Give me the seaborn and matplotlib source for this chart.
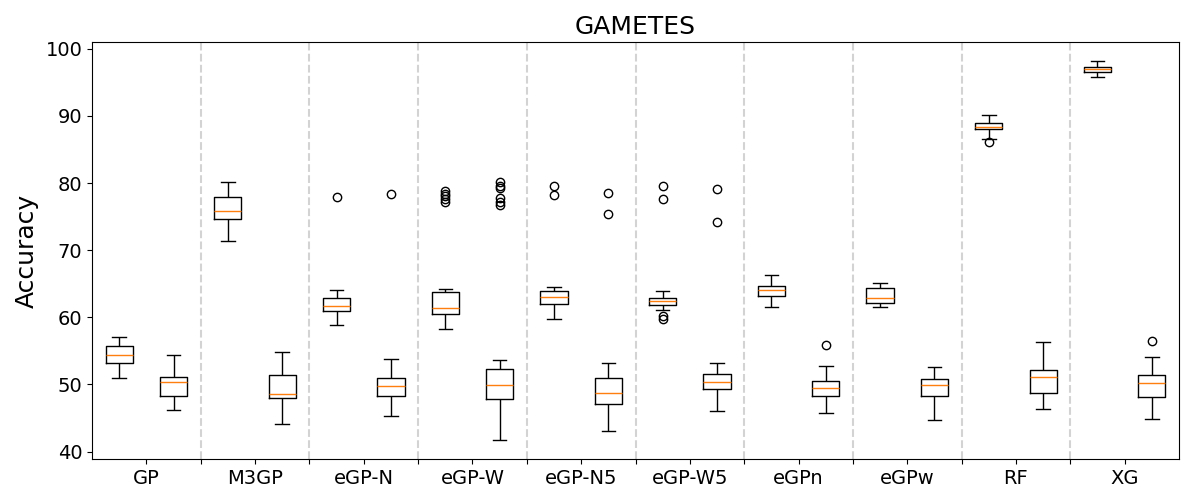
import numpy as np
import pandas as pd
import matplotlib
matplotlib.use("Agg")
import matplotlib.pyplot as plt
import seaborn as sns

# ---- data ----
methods = ["GP", "M3GP", "eGP-N", "eGP-W", "eGP-N5", "eGP-W5", "eGPn", "eGPw", "RF", "XG"]

# 20 boxes: for each method a left (train) and right (test) box
whisker_low = [50.94, 46.19, 71.41, 44.11, 58.81, 45.30, 58.22, 41.73, 59.70, 43.07,
               61.04, 46.00, 61.49, 45.79, 61.49, 44.70, 86.62, 46.34, 95.82, 44.85]
quart_low = [53.17, 48.27, 74.65, 47.92, 60.99, 48.21, 60.45, 47.83, 62.03, 47.08,
             61.88, 49.30, 63.10, 48.27, 62.08, 48.31, 87.97, 48.71, 96.57, 48.15]
medians = [54.36, 50.35, 75.84, 48.52, 61.63, 49.75, 61.34, 49.85, 62.97, 48.71,
           62.37, 50.39, 64.00, 49.50, 62.93, 49.90, 88.37, 51.09, 96.95, 50.20]
quart_high = [55.70, 51.09, 77.93, 51.39, 62.82, 50.94, 63.72, 52.28, 63.86, 50.94,
              62.82, 51.54, 64.60, 50.49, 64.31, 50.79, 88.96, 52.13, 97.31, 51.35]
whisker_high = [57.03, 54.36, 80.17, 54.80, 64.01, 53.76, 64.16, 53.61, 64.46, 53.22,
                63.86, 53.22, 66.29, 52.72, 65.10, 52.62, 90.16, 56.29, 98.21, 54.06]
outliers = [
    [], [], [], [],
    [77.93], [78.37],
    [77.2, 77.6, 78.0, 78.4, 78.8], [76.8, 77.2, 77.7, 79.2, 79.6, 80.1],
    [78.22, 79.51], [75.45, 78.52],
    [59.7, 60.2, 77.63, 79.6], [74.2, 79.1],
    [], [55.84],
    [], [],
    [86.07], [],
    [], [56.40],
]


def box_observations(lo, q1, med, q3, hi, fl):
    """Observation list whose box statistics equal the values read above."""
    low_f = sorted(f for f in fl if f < q1)
    high_f = sorted(f for f in fl if f > q3)
    t = max(len(low_f), len(high_f)) + 1
    low = low_f + [lo] * (t - len(low_f))
    high = [hi] * (t - len(high_f)) + high_f
    return low + [q1] * t + [med] + [q3] * t + high


rows = []
for i in range(len(medians)):
    obs = box_observations(whisker_low[i], quart_low[i], medians[i],
                           quart_high[i], whisker_high[i], outliers[i])
    for v in obs:
        rows.append({"pos": i + 1, "value": v})
df = pd.DataFrame(rows)

# ---- plot ----
fig, ax = plt.subplots(figsize=(12, 5), dpi=100)
fig.subplots_adjust(left=0.0767, right=0.9825, top=0.916, bottom=0.082)

sns.boxplot(
    data=df, x="pos", y="value", native_scale=True, orient="x",
    width=0.5, fill=False, color="black", linewidth=1, whis=1.5,
    fliersize=6,
    medianprops={"color": "#ff7f0e", "linewidth": 1},
    flierprops={"marker": "o", "markerfacecolor": "none",
                "markeredgecolor": "black", "markersize": 6},
    boxprops={"color": "black"},
    whiskerprops={"color": "black"},
    capprops={"color": "black"},
    ax=ax,
)

for k in range(1, len(methods)):
    ax.axvline(2 * k + 0.5, color="lightgray", linestyle="--", linewidth=1.5,
               zorder=0)

tick_pos = np.arange(1.5, 2 * len(methods), 1.0)
tick_lab = [methods[k // 2] if k % 2 == 0 else "" for k in range(len(tick_pos))]
ax.set_xticks(tick_pos)
ax.set_xticklabels(tick_lab, fontsize=14)
ax.tick_params(axis="y", labelsize=14)
ax.set_xlim(0.5, 2 * len(methods) + 0.5)
ax.set_ylim(38.9, 101.0)
ax.set_yticks([40, 50, 60, 70, 80, 90, 100])
ax.set_xlabel("")
ax.set_ylabel("Accuracy", fontsize=18, labelpad=5)
ax.set_title("GAMETES", fontsize=18)

fig.savefig("out.png", dpi=100)
